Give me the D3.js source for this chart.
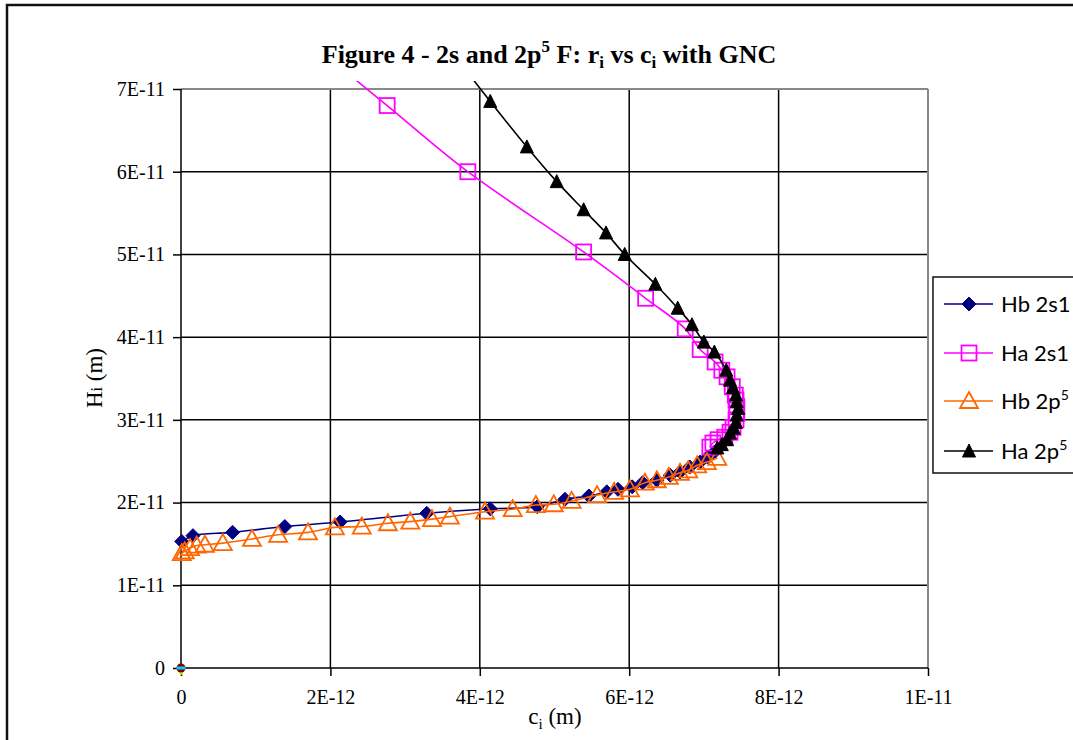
<!DOCTYPE html>
<html><head><meta charset="utf-8">
<script src="https://cdn.jsdelivr.net/npm/d3@7"></script>
<style>body{margin:0;background:#fff}svg{display:block}</style>
</head><body>
<script>
// ---- data (c_i in m, H_i in m) ----
const xTicks = [0, 2e-12, 4e-12, 6e-12, 8e-12, 1e-11];
const xTickLabels = ["0", "2E-12", "4E-12", "6E-12", "8E-12", "1E-11"];
const yTicks = [0, 1e-11, 2e-11, 3e-11, 4e-11, 5e-11, 6e-11, 7e-11];
const yTickLabels = ["0", "1E-11", "2E-11", "3E-11", "4E-11", "5E-11", "6E-11", "7E-11"];
const seriesNames = ["Hb 2s1", "Ha 2s1", "Hb 2p", "Ha 2p"];

const hb2s1_c = [0.01e-12,0.16e-12,0.69e-12,1.39e-12,2.13e-12,3.29e-12,4.14e-12,4.77e-12,5.14e-12,5.46e-12,5.70e-12,5.85e-12,6.04e-12,6.18e-12,6.37e-12,6.55e-12,6.68e-12,6.81e-12,6.95e-12,7.05e-12,7.14e-12];
const hb2s1_H = [1.53e-11,1.60e-11,1.64e-11,1.71e-11,1.765e-11,1.87e-11,1.925e-11,1.95e-11,2.04e-11,2.08e-11,2.13e-11,2.16e-11,2.19e-11,2.24e-11,2.27e-11,2.33e-11,2.37e-11,2.43e-11,2.49e-11,2.55e-11,2.61e-11];

const ha2s1_c = [2.0e-12,2.76e-12,3.84e-12,5.39e-12,6.22e-12,6.75e-12,6.95e-12,7.15e-12,7.24e-12,7.31e-12,7.38e-12,7.42e-12,7.43e-12,7.44e-12,7.44e-12,7.43e-12,7.39e-12,7.35e-12,7.28e-12,7.19e-12,7.12e-12,7.08e-12];
const ha2s1_H = [7.36e-11,6.80e-11,6.00e-11,5.03e-11,4.47e-11,4.10e-11,3.85e-11,3.70e-11,3.60e-11,3.52e-11,3.40e-11,3.30e-11,3.24e-11,3.16e-11,3.08e-11,3.00e-11,2.91e-11,2.85e-11,2.79e-11,2.76e-11,2.72e-11,2.67e-11];

const hb2p5_c = [0.01e-12,0.05e-12,0.12e-12,0.21e-12,0.32e-12,0.56e-12,0.95e-12,1.30e-12,1.70e-12,2.06e-12,2.42e-12,2.77e-12,3.07e-12,3.36e-12,3.60e-12,4.07e-12,4.44e-12,4.75e-12,4.99e-12,5.23e-12,5.57e-12,5.80e-12,6.01e-12,6.21e-12,6.37e-12,6.53e-12,6.68e-12,6.79e-12,6.91e-12,7.04e-12,7.18e-12];
const hb2p5_H = [1.39e-11,1.41e-11,1.45e-11,1.48e-11,1.49e-11,1.51e-11,1.56e-11,1.61e-11,1.64e-11,1.70e-11,1.71e-11,1.75e-11,1.77e-11,1.80e-11,1.83e-11,1.89e-11,1.92e-11,1.97e-11,1.98e-11,2.02e-11,2.09e-11,2.13e-11,2.16e-11,2.24e-11,2.27e-11,2.31e-11,2.36e-11,2.39e-11,2.45e-11,2.49e-11,2.54e-11];

const ha2p5_c = [3.7e-12,4.14e-12,4.63e-12,5.03e-12,5.39e-12,5.69e-12,5.94e-12,6.35e-12,6.65e-12,6.84e-12,7.00e-12,7.14e-12,7.30e-12,7.35e-12,7.39e-12,7.43e-12,7.44e-12,7.46e-12,7.44e-12,7.43e-12,7.40e-12,7.35e-12,7.31e-12,7.24e-12,7.18e-12];
const ha2p5_H = [7.36e-11,6.85e-11,6.30e-11,5.88e-11,5.54e-11,5.26e-11,5.00e-11,4.64e-11,4.35e-11,4.15e-11,3.94e-11,3.82e-11,3.60e-11,3.48e-11,3.39e-11,3.30e-11,3.22e-11,3.14e-11,3.06e-11,2.97e-11,2.90e-11,2.84e-11,2.76e-11,2.70e-11,2.66e-11];

// hidden series sitting at the origin
const originColors = ["#800000", "#00CCFF", "#FFFF00"];

// ---- layout ----
const W = 1073, H = 740;
const L = 181, R = 928, T = 89, B = 668;
const svg = d3.select("body").append("svg").attr("width", W).attr("height", H);

svg.append("rect").attr("x", 7).attr("y", 5).attr("width", W + 20).attr("height", H + 20)
  .attr("fill", "#fff").attr("stroke", "#111").attr("stroke-width", 2.5);

const x = d3.scaleLinear().domain([0, 1e-11]).range([L, R]);
const y = d3.scaleLinear().domain([0, 7e-11]).range([B, T]);

// gridlines
const g = svg.append("g");
g.selectAll(".vg").data(xTicks.slice(1, -1)).join("line")
  .attr("x1", d => x(d)).attr("x2", d => x(d)).attr("y1", T).attr("y2", B)
  .attr("stroke", "#000").attr("stroke-width", 1.5);
g.selectAll(".hg").data(yTicks.slice(1, -1)).join("line")
  .attr("x1", L).attr("x2", R).attr("y1", d => y(d)).attr("y2", d => y(d))
  .attr("stroke", "#000").attr("stroke-width", 1.5);
g.append("line").attr("x1", L).attr("x2", R).attr("y1", T).attr("y2", T).attr("stroke", "#888").attr("stroke-width", 2);
g.append("line").attr("x1", R).attr("x2", R).attr("y1", T).attr("y2", B).attr("stroke", "#888").attr("stroke-width", 2);

// axes
const xAxis = d3.axisBottom(x).tickValues(xTicks).tickFormat((d, i) => xTickLabels[i]).tickSize(8).tickPadding(14);
const yAxis = d3.axisLeft(y).tickValues(yTicks).tickFormat((d, i) => yTickLabels[i]).tickSize(8).tickPadding(8);
const gx = svg.append("g").attr("transform", `translate(0,${B})`).call(xAxis);
const gy = svg.append("g").attr("transform", `translate(${L},0)`).call(yAxis);
[gx, gy].forEach(a => {
  a.select(".domain").attr("stroke", "#000").attr("stroke-width", 1.5);
  a.selectAll(".tick line").attr("stroke", "#000").attr("stroke-width", 1.5);
  a.selectAll(".tick text").attr("font-family", "Liberation Serif, serif").attr("font-size", 20).attr("fill", "#000");
});
gy.select(".domain").attr("d", `M-0,${B}V${T}`);
gx.select(".domain").attr("d", `M${L},0H${R}`);

// title
const title = svg.append("text").attr("x", 549).attr("y", 63).attr("text-anchor", "middle")
  .attr("font-family", "Liberation Serif, serif").attr("font-weight", "bold").attr("font-size", 26);
title.append("tspan").text("Figure 4 - 2s and 2p");
title.append("tspan").attr("dy", -11).attr("font-size", 17).text("5");
title.append("tspan").attr("dy", 11).text(" F: r");
title.append("tspan").attr("dy", 5).attr("font-size", 17).text("i");
title.append("tspan").attr("dy", -5).text(" vs c");
title.append("tspan").attr("dy", 5).attr("font-size", 17).text("i");
title.append("tspan").attr("dy", -5).text(" with GNC");

// axis titles
const xt = svg.append("text").attr("x", 555).attr("y", 724).attr("text-anchor", "middle")
  .attr("font-family", "Liberation Serif, serif").attr("font-size", 23);
xt.append("tspan").text("c");
xt.append("tspan").attr("dy", 5).attr("font-size", 15).text("i");
xt.append("tspan").attr("dy", -5).text(" (m)");
const yt = svg.append("text").attr("transform", "translate(102,378) rotate(-90)").attr("text-anchor", "middle")
  .attr("font-family", "Liberation Serif, serif").attr("font-size", 23);
yt.append("tspan").text("H");
yt.append("tspan").attr("font-size", 16).text("i");
yt.append("tspan").text(" (m)");

// series
const clipId = "plotclip";
svg.append("clipPath").attr("id", clipId).append("rect").attr("x", L - 12).attr("y", 81).attr("width", R - L + 12).attr("height", B - 81 + 12);

const series = [
  {name: "Hb 2s1", c: hb2s1_c, h: hb2s1_H, color: "#000080", marker: "diamond"},
  {name: "Ha 2s1", c: ha2s1_c, h: ha2s1_H, color: "#FF00FF", marker: "square"},
  {name: "Hb 2p", c: hb2p5_c, h: hb2p5_H, color: "#FF6600", marker: "otri"},
  {name: "Ha 2p", c: ha2p5_c, h: ha2p5_H, color: "#000000", marker: "ftri"}
];

function drawMarker(sel, type, color) {
  if (type === "diamond") {
    sel.append("path").attr("d", "M0,-7L7,0L0,7L-7,0Z").attr("fill", color).attr("stroke", color).attr("stroke-width", 1);
  } else if (type === "square") {
    sel.append("rect").attr("x", -7.5).attr("y", -7.5).attr("width", 15).attr("height", 15)
      .attr("fill", "none").attr("stroke", color).attr("stroke-width", 1.8);
  } else if (type === "otri") {
    sel.append("path").attr("d", "M0,-9L9,7L-9,7Z").attr("fill", "none").attr("stroke", color).attr("stroke-width", 1.8);
  } else {
    sel.append("path").attr("d", "M0,-7L6.5,6L-6.5,6Z").attr("fill", color).attr("stroke", color).attr("stroke-width", 1);
  }
}

const line = d3.line().x(d => x(d[0])).y(d => y(d[1])).curve(d3.curveCatmullRom.alpha(0.5));
const plot = svg.append("g").attr("clip-path", `url(#${clipId})`);
series.forEach(s => {
  const pts = s.c.map((c, i) => [c, s.h[i]]);
  plot.append("path").datum(pts).attr("d", line).attr("fill", "none").attr("stroke", s.color).attr("stroke-width", 1.6);
  pts.filter(p => p[1] <= 7e-11).forEach(p => {
    const m = plot.append("g").attr("transform", `translate(${x(p[0])},${y(p[1])})`);
    drawMarker(m, s.marker, s.color);
  });
});

// origin markers
const o = svg.append("g").attr("transform", `translate(${x(0)},${y(0)})`);
o.append("path").attr("d", "M-4,1L4,1L0,7Z").attr("fill", "#FFFF00").attr("stroke", "#CCCC00").attr("stroke-width", 0.8);
o.append("circle").attr("r", 4.5).attr("fill", originColors[0]);
o.append("rect").attr("x", -4.5).attr("y", -1.5).attr("width", 9).attr("height", 3).attr("fill", originColors[1]);

// legend
const lg = svg.append("g");
lg.append("rect").attr("x", 933).attr("y", 277).attr("width", 200).attr("height", 196)
  .attr("fill", "#fff").attr("stroke", "#111").attr("stroke-width", 1.5);
const rowsY = [304, 353, 401, 451];
series.forEach((s, i) => {
  const ry = rowsY[i];
  lg.append("line").attr("x1", 944).attr("x2", 993).attr("y1", ry).attr("y2", ry).attr("stroke", s.color).attr("stroke-width", 1.6);
  const m = lg.append("g").attr("transform", `translate(969,${ry})`);
  drawMarker(m, s.marker, s.color);
  const t = lg.append("text").attr("x", 1001).attr("y", ry + 8).attr("font-family", "Lato, 'Open Sans', sans-serif").attr("font-size", 22).attr("fill", "#000");
  t.append("tspan").text(s.name);
  if (i >= 2) t.append("tspan").attr("dy", -9).attr("font-size", 14).text("5");
});
</script>
</body></html>
